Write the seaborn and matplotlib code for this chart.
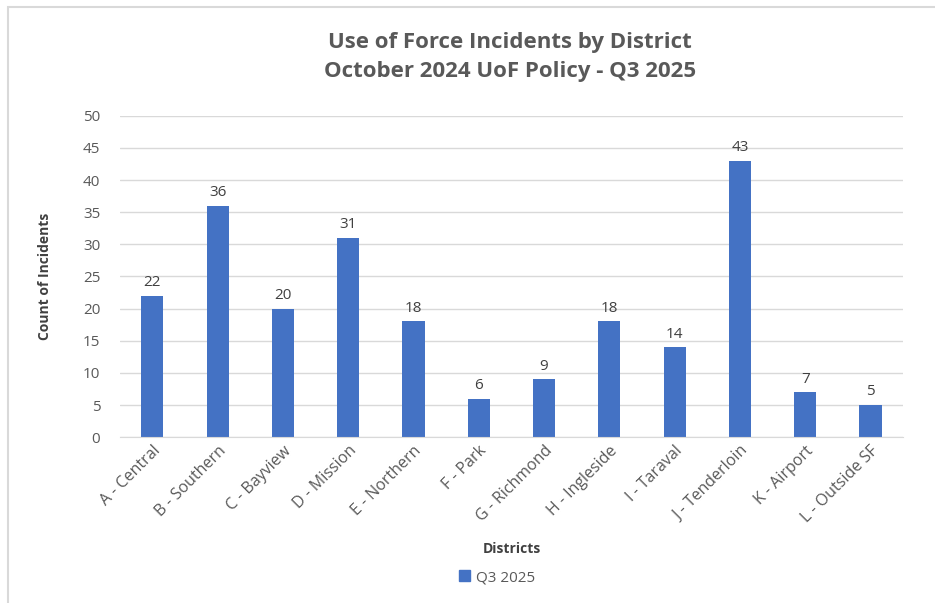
import pandas as pd
import matplotlib
matplotlib.use("Agg")
import matplotlib.pyplot as plt
import seaborn as sns
from matplotlib.patches import Rectangle

# data
districts = ["A - Central", "B - Southern", "C - Bayview", "D - Mission", "E - Northern",
             "F - Park", "G - Richmond", "H - Ingleside", "I - Taraval", "J - Tenderloin",
             "K - Airport", "L - Outside SF"]
q3_2025 = [22, 36, 20, 31, 18, 6, 9, 18, 14, 43, 7, 5]
y_ticks = [0, 5, 10, 15, 20, 25, 30, 35, 40, 45, 50]

df = pd.DataFrame({"District": districts, "Count": q3_2025, "Series": "Q3 2025"})

sns.set_style("white")
plt.rcParams["font.family"] = ["Open Sans", "DejaVu Sans"]

txt = "#595959"
bar_col = "#4472C4"

fig = plt.figure(figsize=(9.35, 6.03), dpi=100)
ax = fig.add_axes([0.128, 0.275, 0.838, 0.533])

# outer frame (top and left edges visible)
fig.patches.append(Rectangle((8 / 935, -0.1), 1.2, 1 - 7 / 603 + 0.1, transform=fig.transFigure,
                             fill=False, edgecolor="#D9D9D9", linewidth=1.5))

sns.barplot(data=df, x="District", y="Count", hue="Series", palette=[bar_col],
            width=0.34, saturation=1, linewidth=0, ax=ax, legend=False)

ax.set_ylim(0, 50)
ax.set_yticks(y_ticks)
ax.yaxis.grid(True, color="#D9D9D9", linewidth=1)
ax.set_axisbelow(True)
for s in ["top", "right", "left"]:
    ax.spines[s].set_visible(False)
ax.spines["bottom"].set_color("#D9D9D9")
ax.set_xlim(-0.5, len(districts) - 0.5)

ax.tick_params(axis="y", length=0, labelsize=11, labelcolor=txt, pad=14)
ax.tick_params(axis="x", length=0, labelsize=11.5, labelcolor=txt, pad=4)
ax.set_xticks(range(len(districts)))
ax.set_xticklabels(districts, rotation=45, ha="right", rotation_mode="anchor")

for c in ax.containers:
    ax.bar_label(c, padding=4, fontsize=11, color="#404040")

ax.set_ylabel("Count of Incidents", fontsize=10, fontweight="bold", color="#404040", labelpad=22)
ax.set_xlabel("Districts", fontsize=10, fontweight="bold", color="#404040", va="center")
ax.xaxis.set_label_coords(0.5, -0.348)

fig.text(0.545, 0.905, "Use of Force Incidents by District\nOctober 2024 UoF Policy - Q3 2025",
         ha="center", va="center", fontsize=16, fontweight="bold", color=txt, linespacing=1.5)

# legend below the x label
handle = plt.Rectangle((0, 0), 1, 1, color=bar_col)
fig.legend([handle], ["Q3 2025"], loc="center", bbox_to_anchor=(0.532, 0.042), frameon=False,
           fontsize=11, labelcolor=txt, handlelength=0.7, handleheight=0.7, handletextpad=0.4)

fig.savefig("out.png", dpi=100)
